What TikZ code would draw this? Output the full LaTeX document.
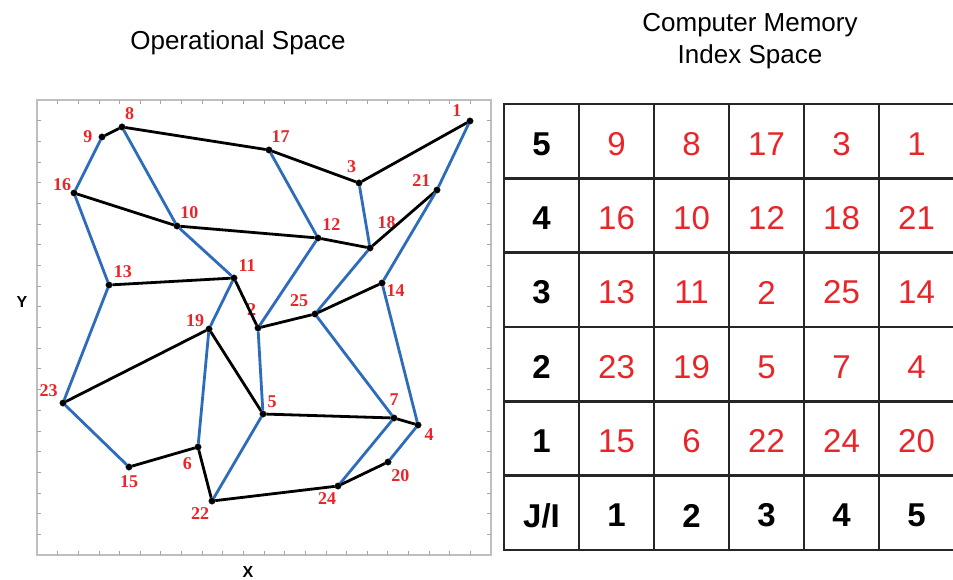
\documentclass[tikz,border=0pt]{standalone}
\usepackage{fontspec}
\setmainfont{Liberation Sans}
\newfontfamily\plotfont{Liberation Serif}
\definecolor{edgeblue}{RGB}{45,108,186}
\definecolor{numred}{RGB}{232,38,42}

\begin{document}
\begin{tikzpicture}[
	x=1pt, y=-1pt,
	vertex/.style={ circle, draw, very thin, fill, inner sep=0pt, minimum size=6.5pt },
	rowedge/.style={ black, line width=2.8pt },
	coledge/.style={ edgeblue, line width=2.8pt },
	every label/.style={ text=numred, inner sep=1pt, font=\plotfont\bfseries\fontsize{18}{18}\selectfont },
	cellnum/.style={ text=numred, font=\fontsize{33}{33}\selectfont },
	cellhead/.style={ font=\bfseries\fontsize{33}{33}\selectfont },
	gridline/.style={ black!85, line width=2.6pt, line cap=rect },
	tick/.style={ black!35, line width=0.8pt }
]

\path[fill=white] (0,0) rectangle (953,580);
\useasboundingbox (0,0) rectangle (953,580);

\node (optitle) at (238,49.5) [anchor=base, font=\fontsize{26}{31.6}\selectfont] {Operational Space};
\node (memtitle) at (750,41) [align=center, font=\fontsize{26}{31.6}\selectfont] {Computer Memory\\Index Space};
\node (ylabel) at (22,302) [font=\bfseries\fontsize{16}{16}\selectfont] {Y};
\node (xlabel) at (248,572) [font=\bfseries\fontsize{16}{16}\selectfont] {X};

\draw[black!25, line width=1.2pt] (37,100) rectangle (491,555);
\foreach \k in {1,...,21} {
	\draw[tick] ({37+454*\k/22},100) -- ++(0,4);
	\draw[tick] ({37+454*\k/22},555) -- ++(0,-4);
	\draw[tick] (37,{100+455*\k/22}) -- ++(4,0);
	\draw[tick] (491,{100+455*\k/22}) -- ++(-4,0);
}

\node at (102,137) (nine) [vertex,label={[label distance=5pt]180:9}] {};
\node at (122,127) (eight) [vertex,label={[label distance=3pt]73:8}] {};
\foreach \p in {nine} \draw[rowedge] (eight) to (\p);
\node at (269,150) (seventeen) [vertex,label={[label distance=3.6pt]78:17}] {};
\foreach \p in {eight} \draw[rowedge] (seventeen) to (\p);
\node at (359,183) (three) [vertex,label={[label distance=5.7pt]101:3}] {};
\foreach \p in {seventeen} \draw[rowedge] (three) to (\p);
\node at (470,121) (one) [vertex,label={[label distance=4.8pt]155:1}] {};
\foreach \p in {three} \draw[rowedge] (one) to (\p);

\node at (74,193) (sixteen) [vertex,label={[label distance=-1pt]138:16}] {};
\foreach \p in {nine} \draw[coledge] (sixteen) to (\p);
\node at (177,226) (ten) [vertex,label={[label distance=3pt]69:10}] {};
\foreach \p in {sixteen} \draw[rowedge] (ten) to (\p);
\foreach \p in {eight} \draw[coledge] (ten) to (\p);
\node at (318,238) (twelve) [vertex,label={[label distance=3.4pt]62:12}] {};
\foreach \p in {ten} \draw[rowedge] (twelve) to (\p);
\foreach \p in {seventeen} \draw[coledge] (twelve) to (\p);
\node at (370,248) (eighteen) [vertex,label={[label distance=15.5pt]70:18}] {};
\foreach \p in {twelve} \draw[rowedge] (eighteen) to (\p);
\foreach \p in {three} \draw[coledge] (eighteen) to (\p);
\node at (437,190) (twentyone) [vertex,label={[label distance=2.5pt]158:21}] {};
\foreach \p in {eighteen} \draw[rowedge] (twentyone) to (\p);
\foreach \p in {one} \draw[coledge] (twentyone) to (\p);

\node at (109,285) (thirteen) [vertex,label={[label distance=3.6pt]58:13}] {};
\foreach \p in {sixteen} \draw[coledge] (thirteen) to (\p);
\node at (234,278) (eleven) [vertex,label={[label distance=2.6pt]56:11}] {};
\foreach \p in {thirteen} \draw[rowedge] (eleven) to (\p);
\foreach \p in {ten} \draw[coledge] (eleven) to (\p);
\node at (258,328) (two) [vertex,label={[label distance=7.5pt]93:2}] {};
\foreach \p in {eleven} \draw[rowedge] (two) to (\p);
\foreach \p in {twelve} \draw[coledge] (two) to (\p);
\node at (315,314) (twentyfive) [vertex,label={[label distance=4.8pt]133:25}] {};
\foreach \p in {two} \draw[rowedge] (twentyfive) to (\p);
\foreach \p in {eighteen} \draw[coledge] (twentyfive) to (\p);
\node at (382,283) (fourteen) [vertex,label={[label distance=0pt]-4:14}] {};
\foreach \p in {twentyfive} \draw[rowedge] (fourteen) to (\p);
\foreach \p in {twentyone} \draw[coledge] (fourteen) to (\p);

\node at (63,403) (twentythree) [vertex,label={[label distance=3pt]130:23}] {};
\foreach \p in {thirteen} \draw[coledge] (twentythree) to (\p);
\node at (209,329) (nineteen) [vertex,label={[label distance=0.5pt]159:19}] {};
\foreach \p in {twentythree} \draw[rowedge] (nineteen) to (\p);
\foreach \p in {eleven} \draw[coledge] (nineteen) to (\p);
\node at (263,414) (five) [vertex,label={[label distance=2.6pt]56:5}] {};
\foreach \p in {nineteen} \draw[rowedge] (five) to (\p);
\foreach \p in {two} \draw[coledge] (five) to (\p);
\node at (394,418) (seven) [vertex,label={[label distance=7.5pt]90:7}] {};
\foreach \p in {five} \draw[rowedge] (seven) to (\p);
\foreach \p in {twentyfive} \draw[coledge] (seven) to (\p);
\node at (418,425) (four) [vertex,label={[label distance=2.6pt]-24:4}] {};
\foreach \p in {seven} \draw[rowedge] (four) to (\p);
\foreach \p in {fourteen} \draw[coledge] (four) to (\p);

\node at (129,467) (fifteen) [vertex,label={[label distance=4.5pt]270:15}] {};
\foreach \p in {twentythree} \draw[coledge] (fifteen) to (\p);
\node at (198,447) (six) [vertex,label={[label distance=7pt]241:6}] {};
\foreach \p in {fifteen} \draw[rowedge] (six) to (\p);
\foreach \p in {nineteen} \draw[coledge] (six) to (\p);
\node at (212,501) (twentytwo) [vertex,label={[label distance=1.8pt]252:22}] {};
\foreach \p in {six} \draw[rowedge] (twentytwo) to (\p);
\foreach \p in {five} \draw[coledge] (twentytwo) to (\p);
\node at (338,486) (twentyfour) [vertex,label={[label distance=1.6pt]261:24}] {};
\foreach \p in {twentytwo} \draw[rowedge] (twentyfour) to (\p);
\foreach \p in {seven} \draw[coledge] (twentyfour) to (\p);
\node at (388,462) (twenty) [vertex,label={[label distance=3pt]291:20}] {};
\foreach \p in {twentyfour} \draw[rowedge] (twenty) to (\p);
\foreach \p in {four} \draw[coledge] (twenty) to (\p);

\foreach \j in {0,...,6} \draw[gridline] (504,{104+74.3*\j}) -- (953,{104+74.3*\j});
\foreach \i in {0,...,5} \draw[gridline] ({504+75*\i},104) -- ({504+75*\i},549.8);

\foreach \h [count=\j] in {5,4,3,2,1,J/I}
	\node (head-\j) at (541.5,{144+74.3*(\j-1)}) [cellhead] {\h};
\foreach \h [count=\i] in {1,2,3,4,5}
	\node (foot-\i) at ({541.5+75*\i},515.5) [cellhead] {\h};
\foreach \row [count=\j] in {{9,8,17,3,1},{16,10,12,18,21},{13,11,2,25,14},{23,19,5,7,4},{15,6,22,24,20}}
	\foreach \v [count=\i] in \row
		\node (cell-\j-\i) at ({541.5+75*\i},{144+74.3*(\j-1)}) [cellnum] {\v};

\end{tikzpicture}
\end{document}
